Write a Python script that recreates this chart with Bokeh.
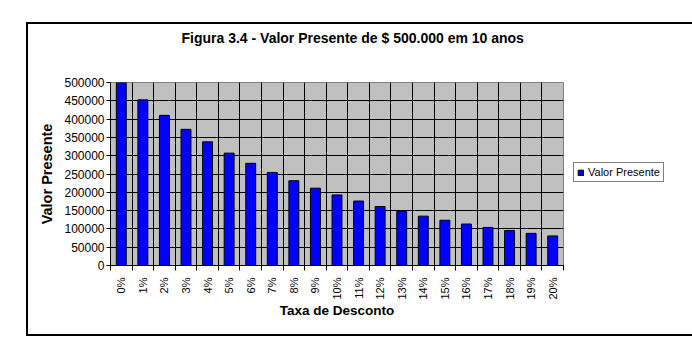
import math
from bokeh.plotting import figure
from bokeh.models import (FixedTicker, Range1d, Legend, LegendItem, Title,
                          BasicTickFormatter, ColumnDataSource)
from bokeh.embed import file_html
from bokeh.resources import INLINE

# ---- data ----
taxas = ["0%", "1%", "2%", "3%", "4%", "5%", "6%", "7%", "8%", "9%", "10%",
         "11%", "12%", "13%", "14%", "15%", "16%", "17%", "18%", "19%", "20%"]
valor_presente = [500000, 452600, 410200, 372000, 337800, 307000, 279200,
                  254200, 231600, 211200, 192800, 176100, 161000, 147300,
                  134900, 123600, 113300, 104000, 95500, 87800, 80800]
y_ticks = [0, 50000, 100000, 150000, 200000, 250000, 300000, 350000,
           400000, 450000, 500000]
titulo = "Figura 3.4 - Valor Presente de $ 500.000 em 10 anos"
x_titulo = "Taxa de Desconto"
y_titulo = "Valor Presente"
serie = "Valor Presente"

FONT = "Liberation Sans"

n = len(taxas)
centers = [i + 0.5 for i in range(n)]
bounds = list(range(n + 1))

src = ColumnDataSource(dict(x=centers, v=valor_presente, t=taxas))

p = figure(width=639, height=310, frame_width=453, frame_height=183,
           output_backend="svg", toolbar_location=None,
           x_range=Range1d(0, n), y_range=Range1d(0, max(y_ticks)),
           min_border_left=82, min_border_right=0,
           min_border_top=58, min_border_bottom=69,
           background_fill_color="#C0C0C0", border_fill_color="white",
           title=None)
p.margin = (24, 25, 0, 28)
p.styles = {"outline": "2px solid black"}
p.outline_line_color = "#808080"
p.outline_line_width = 1

# title (spacer panel first, then the real title above it)
p.add_layout(Title(text=" ", text_font_size="12px", standoff=21), "above")
p.add_layout(Title(text=titulo, text_font=FONT, text_font_size="14px",
                   text_font_style="bold", text_color="black",
                   align="left", offset=71, standoff=0), "above")

r = p.vbar(x="x", top="v", width=0.46, source=src, fill_color="#0000FF",
           line_color="black", line_width=1)

# grids
p.xgrid.ticker = FixedTicker(ticks=bounds)
p.xgrid.grid_line_color = "black"
p.ygrid.ticker = FixedTicker(ticks=y_ticks)
p.ygrid.grid_line_color = "black"

# x axis
xa = p.xaxis[0]
xa.ticker = FixedTicker(ticks=centers, minor_ticks=bounds)
xa.major_label_overrides = {c: t for c, t in zip(centers, taxas)}
xa.major_tick_out = 0
xa.major_tick_in = 0
xa.minor_tick_out = 5
xa.minor_tick_in = 0
xa.minor_tick_line_color = "black"
xa.axis_line_color = "black"
xa.major_label_orientation = math.pi / 2
xa.major_label_standoff = 7
xa.major_label_text_font = FONT
xa.major_label_text_font_size = "11px"
xa.major_label_text_color = "black"
xa.axis_label = x_titulo
xa.axis_label_text_font = FONT
xa.axis_label_text_font_size = "13.5px"
xa.axis_label_text_font_style = "bold"
xa.axis_label_text_color = "black"
xa.axis_label_standoff = 0

# y axis
ya = p.yaxis[0]
ya.ticker = FixedTicker(ticks=y_ticks)
ya.formatter = BasicTickFormatter(use_scientific=False)
ya.major_tick_out = 4
ya.major_tick_in = 0
ya.major_tick_line_color = "black"
ya.minor_tick_line_color = None
ya.axis_line_color = "black"
ya.major_label_standoff = 2
ya.major_label_text_font = FONT
ya.major_label_text_font_size = "12px"
ya.major_label_text_color = "black"
ya.axis_label = y_titulo
ya.axis_label_text_font = FONT
ya.axis_label_text_font_size = "14.5px"
ya.axis_label_text_font_style = "bold"
ya.axis_label_text_color = "black"
ya.axis_label_standoff = 6

# legend
leg = Legend(items=[LegendItem(label=serie, renderers=[r])], location=(10, 83),
             border_line_color="black", border_line_width=1,
             background_fill_color="white", background_fill_alpha=1,
             padding=3, margin=0, spacing=0, glyph_width=7, glyph_height=7,
             label_height=11, label_standoff=4,
             label_text_font=FONT, label_text_font_size="11px",
             label_text_color="black")
p.add_layout(leg, "right")

open("out.html", "w").write(file_html(p, INLINE))
